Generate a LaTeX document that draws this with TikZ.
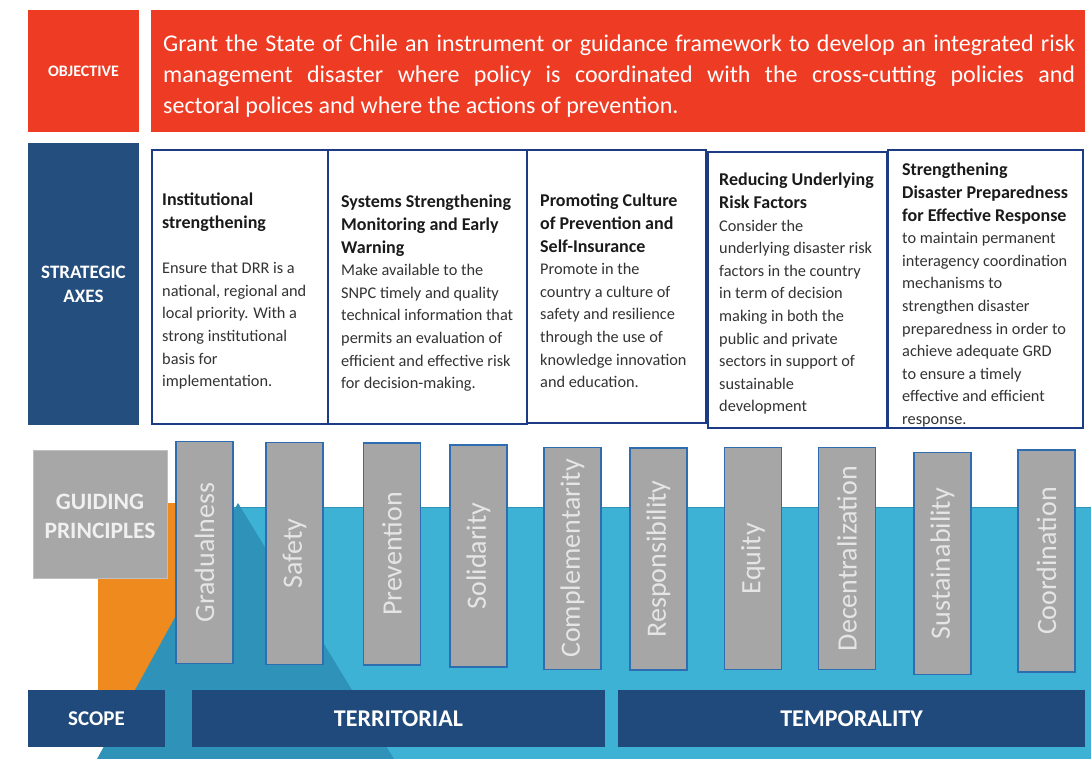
\documentclass[tikz,border=0pt]{standalone}
\usepackage{fontspec}
\setmainfont{Carlito}
\definecolor{objred}{HTML}{EE3B24}
\definecolor{navy}{HTML}{234E7E}
\definecolor{scopenavy}{HTML}{1F4A7B}
\definecolor{boxblue}{HTML}{1D3A84}
\definecolor{pillargray}{HTML}{A6A6A6}
\definecolor{pillarborder}{HTML}{2E6DB0}
\definecolor{tealbg}{HTML}{3DB2D4}
\definecolor{darkteal}{HTML}{2F92B8}
\definecolor{orangebg}{HTML}{EF8A1E}
\definecolor{guidegray}{HTML}{A7A7A7}
\definecolor{bodytext}{HTML}{333333}
\definecolor{titletext}{HTML}{1A1A1A}
\newcommand{\axtitle}[1]{{\color{titletext}\bfseries\fontsize{18}{22.6}\selectfont #1}}
\begin{document}
\begin{tikzpicture}[x=1pt,y=-1pt,
  labelbox/.style={inner sep=0, text=white, font=\bfseries\fontsize{16}{18}\selectfont, align=center},
  axisbox/.style={draw=boxblue, line width=2.5pt, fill=white, inner sep=0},
  axtext/.style={anchor=north west, inner sep=0, align=left, text=bodytext, font=\fontsize{16.3}{22.6}\selectfont},
  pillar/.style={rotate=90, draw=pillarborder, line width=1.5pt, fill=pillargray, inner sep=0,
     minimum width=222, minimum height=57, text=white!90!black, font=\fontsize{28}{32}\selectfont},
  scopebar/.style={fill=scopenavy, inner sep=0, minimum height=57, text=white, font=\bfseries\fontsize{24}{26}\selectfont}
]
\useasboundingbox (0,0) rectangle (1091,759);
\fill[white] (0,0) rectangle (1091,759);
% background shapes
\fill[orangebg] (98,503) rectangle (180,747);
\fill[tealbg] (176,507) rectangle (1091,759);
\draw[darkteal, line width=1pt] (176,507) -- (1091,507);
\fill[darkteal] (238,503) -- (394,759) -- (97,759) -- cycle;

% objective row
\node[labelbox, fill=objred, minimum width=111, minimum height=122] (objlbl) at (83.5,71) {OBJECTIVE};
\node[fill=objred, minimum width=934, minimum height=122, inner sep=0] (objbox) at (618,71) {};
\node[anchor=north west, inner sep=0, align=left, text=white, font=\fontsize{24}{31}\selectfont] (objtxt) at (163,35)
  {\makebox[912pt][s]{Grant the State of Chile an instrument or guidance framework to develop an integrated risk}\\
   \makebox[912pt][s]{management disaster where policy is coordinated with the cross-cutting policies and}\\
   sectoral polices and where the actions of prevention.};

% strategic axes row
\node[labelbox, fill=navy, minimum width=111, minimum height=282, font=\bfseries\fontsize{19}{24}\selectfont] (axlbl) at (83.5,284) {STRATEGIC\\AXES};
\node[axisbox, minimum width=176, minimum height=274] (ax1) at (240,287) {};
\node[axisbox, minimum width=199, minimum height=274] (ax2) at (427.5,287) {};
\node[axisbox, minimum width=179, minimum height=273] (ax3) at (616.5,286.5) {};
\node[axisbox, minimum width=179, minimum height=276] (ax4) at (797.5,290) {};
\node[axisbox, minimum width=195, minimum height=278] (ax5) at (985.5,289) {};

\node[axtext] (t1) at (162,193) {\axtitle{Institutional}\\\axtitle{strengthening}\\[22.6pt]
  Ensure that DRR is a\\national, regional and\\local priority. With a\\strong institutional\\basis for\\implementation.};
\node[axtext] (t2) at (341,195) {\axtitle{Systems Strengthening}\\\axtitle{Monitoring and Early}\\\axtitle{Warning}\\
  Make available to the\\SNPC timely and quality\\technical information that\\permits an evaluation of\\efficient and effective risk\\for decision-making.};
\node[axtext] (t3) at (540,194) {\axtitle{Promoting Culture}\\\axtitle{of Prevention and}\\\axtitle{Self-Insurance}\\
  Promote in the\\country a culture of\\safety and resilience\\through the use of\\knowledge innovation\\and education.};
\node[axtext] (t4) at (719,173) {\axtitle{Reducing Underlying}\\\axtitle{Risk Factors}\\
  Consider the\\underlying disaster risk\\factors in the country\\in term of decision\\making in both the\\public and private\\sectors in support of\\sustainable\\development};
\node[axtext] (t5) at (902,163) {\axtitle{Strengthening}\\\axtitle{Disaster Preparedness}\\\axtitle{for Effective Response}\\
  to maintain permanent\\interagency coordination\\mechanisms to\\strengthen disaster\\preparedness in order to\\achieve adequate GRD\\to ensure a timely\\effective and efficient\\response.};

% guiding principles
\node[fill=guidegray, draw=white!75!black, line width=1pt, minimum width=134, minimum height=128, inner sep=0] (guide) at (100,514) {};
\node[inner sep=0, text=white!94!black, font=\bfseries\fontsize{23.5}{29}\selectfont, align=center] (guidetxt) at (100,516.5) {GUIDING\\PRINCIPLES};

% pillars
\node[pillar] (p1) at (204.5,552.5) {Gradualness};
\node[pillar] (p2) at (294.5,553.5) {Safety};
\node[pillar] (p3) at (392,554) {Prevention};
\node[pillar] (p4) at (478.5,556) {Solidarity};
\node[pillar] (p5) at (572.5,558.5) {Complementarity};
\node[pillar] (p6) at (658.5,559) {Responsibility};
\node[pillar] (p7) at (753,558.5) {Equity};
\node[pillar] (p8) at (847,558.5) {Decentralization};
\node[pillar] (p9) at (942.5,563.5) {Sustainability};
\node[pillar] (p10) at (1046.5,561) {Coordination};

% scope row
\node[scopebar, minimum width=137, font=\bfseries\fontsize{21}{24}\selectfont] (scope) at (96.5,718.5) {SCOPE};
\node[scopebar, minimum width=413] (terr) at (398.5,718.5) {TERRITORIAL};
\node[scopebar, minimum width=467] (temp) at (851.5,718.5) {TEMPORALITY};
\end{tikzpicture}
\end{document}
